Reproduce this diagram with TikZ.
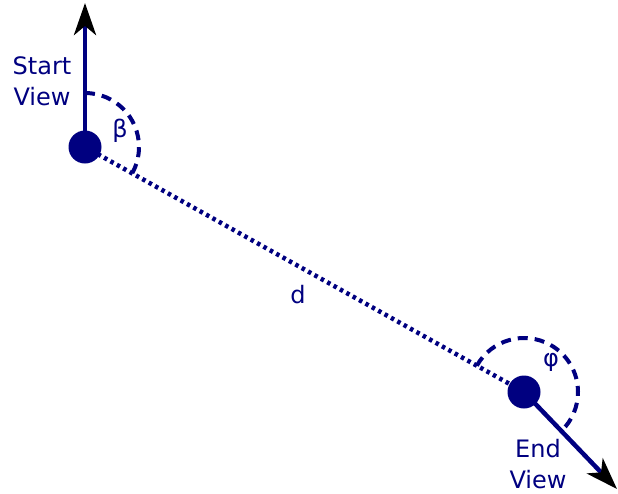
\documentclass[tikz,border=0pt]{standalone}
\usepackage{fontspec}
\setmainfont{DejaVu Sans}
\usetikzlibrary{arrows.meta}
\definecolor{navy}{RGB}{0,0,128}
\tikzset{
  ball/.style={circle,fill=navy,inner sep=0pt,minimum size=33pt},
  viewarrow/.style={line width=4.5pt,navy,-{Stealth[black,length=32pt,width=22pt,inset=9pt]}},
  distline/.style={line width=4.5pt,navy,dash pattern=on 3.5pt off 3.8pt},
  anglearc/.style={line width=4pt,navy,dash pattern=on 10pt off 7pt},
  lbl/.style={text=navy,font=\fontsize{24pt}{31pt}\selectfont,inner sep=0pt,align=center}
}
\begin{document}
\begin{tikzpicture}[x=1pt,y=-1pt]
\useasboundingbox (0,0) rectangle (618,493);
\coordinate (S) at (85,147);
\coordinate (E) at (524,392);
\coordinate (Stip) at (85,3);
\coordinate (Etip) at (617,489);
% distance line
\draw[distline] (S) -- (E);
% angle arcs
\draw[anglearc] (85,93) arc[start angle=-90,end angle=29.2,radius=54];
\draw[anglearc] (E) ++(-150.8:54) arc[start angle=-150.8,end angle=46,radius=54];
% view arrows
\draw[viewarrow] (S) -- (Stip);
\draw[viewarrow] (E) -- (Etip);
% balls
\node[ball] (start) at (S) {};
\node[ball] (end) at (E) {};
% labels
\node[lbl] (beta) at (120,131) {β};
\node[lbl] (phi) at (551,362) {φ};
\node[lbl] (d) at (298,295) {d};
\node[lbl] (sv) at (42,81) {Start\\View};
\node[lbl] (ev) at (538,464) {End\\View};
\end{tikzpicture}
\end{document}
